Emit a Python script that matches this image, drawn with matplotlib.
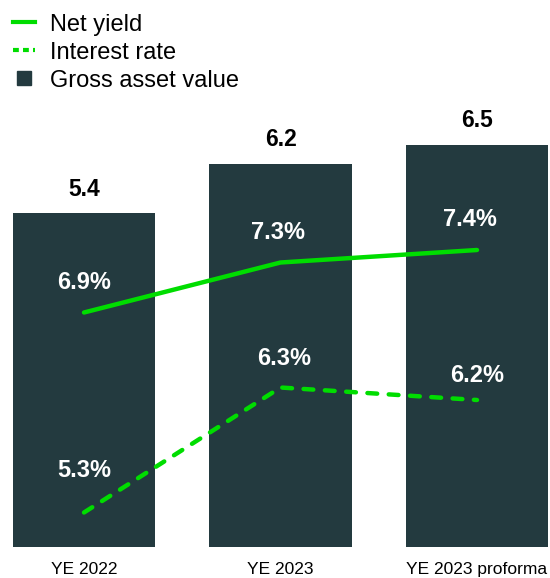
import matplotlib
matplotlib.use("Agg")
import matplotlib.pyplot as plt
from matplotlib.lines import Line2D

categories = ["YE 2022", "YE 2023", "YE 2023 proforma"]
gross_asset_value = [5.4, 6.2, 6.5]
net_yield = [6.9, 7.3, 7.4]
interest_rate = [5.3, 6.3, 6.2]

BAR = "#233A3F"
GREEN = "#00DD00"
plt.rcParams["font.family"] = ["Liberation Sans", "DejaVu Sans"]

W, H = 550, 578
fig = plt.figure(figsize=(W / 100, H / 100), dpi=100)
ax = fig.add_axes([0, 31 / H, 1, (547 - 100) / H])
x = list(range(len(categories)))
ax.bar(x, gross_asset_value, width=0.723, color=BAR, zorder=1)
ax.set_xlim(-84 / 196.5, (550 - 84) / 196.5)
ax.set_ylim(0, (547 - 100) / 61.85)
for xi, v in zip(x, gross_asset_value):
    ax.annotate(f"{v:.1f}", (xi, v), xytext=(0, 24), textcoords="offset pixels",
                ha="center", va="center", fontsize=16.5, fontweight="bold", color="black")
ax.set_xticks(x)
ax.set_xticklabels(categories, fontsize=12.5)
ax.tick_params(axis="x", length=0, pad=11)
ax.set_yticks([])
for s in ax.spines.values():
    s.set_visible(False)

ax2 = ax.twinx()
ax2.set_ylim(7.4 - (547 - 250) / 125, 7.4 + 150 / 125)
ax2.plot(x, net_yield, color=GREEN, lw=3.2, solid_capstyle="round", zorder=3)
ax2.plot(x, interest_rate, color=GREEN, lw=3.2, ls=(0, (2.2, 2.6)),
         dash_capstyle="round", zorder=3)
ax2.set_yticks([])
for s in ax2.spines.values():
    s.set_visible(False)

ny_off = [(0, 30), (-3, 30), (-7, 30)]
ir_off = [(0, 42), (4, 29), (0, 24)]
for xi, v, o in zip(x, net_yield, ny_off):
    ax2.annotate(f"{v:.1f}%", (xi, v), xytext=o, textcoords="offset pixels",
                 ha="center", va="center", fontsize=17, fontweight="bold", color="white")
for xi, v, o in zip(x, interest_rate, ir_off):
    ax2.annotate(f"{v:.1f}%", (xi, v), xytext=o, textcoords="offset pixels",
                 ha="center", va="center", fontsize=17, fontweight="bold", color="white")

handles = [
    Line2D([], [], color=GREEN, lw=3),
    Line2D([], [], color=GREEN, lw=3, ls=(0, (1.4, 1.0))),
    Line2D([], [], color=BAR, lw=0, marker="s", markersize=10.5),
]
fig.legend(handles, ["Net yield", "Interest rate", "Gross asset value"],
           loc="upper left", bbox_to_anchor=(13 / W, 565 / H), frameon=False,
           fontsize=17, handlelength=0.93, handleheight=0.9, handletextpad=0.64,
           labelspacing=0.22, borderaxespad=0, borderpad=0)

fig.savefig("out.png", dpi=100)
